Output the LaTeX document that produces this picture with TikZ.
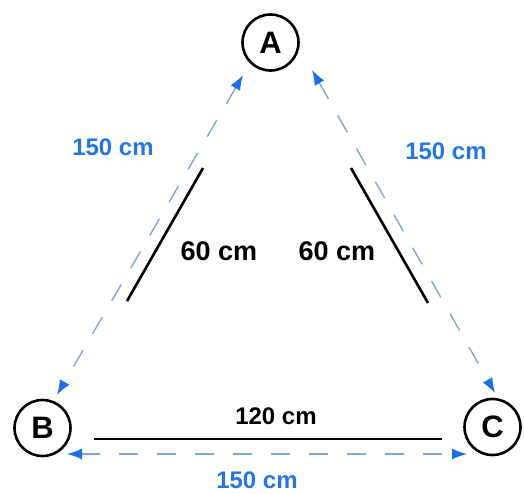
\documentclass[tikz,border=0pt]{standalone}
\usepackage{fontspec}
\setmainfont{Liberation Sans}
\usetikzlibrary{arrows.meta,calc}
\definecolor{tipblue}{RGB}{30,110,228}
\definecolor{dashblue}{RGB}{128,166,212}
\definecolor{lblblue}{RGB}{38,118,226}
\tikzset{
  pt/.style={circle,draw=black,line width=2.6pt,minimum size=56pt,inner sep=0pt,
    font=\fontsize{31}{31}\selectfont\bfseries},
  dim/.style={dashblue,line width=1.4pt,dash pattern=on 19pt off 19pt,
    {Latex[length=15pt,width=11pt,color=tipblue]}-{Latex[length=15pt,width=11pt,color=tipblue]}},
  seg/.style={black,line width=2.6pt},
  bluelbl/.style={text=lblblue,font=\fontsize{24}{24}\selectfont\bfseries},
  blacklbl/.style={text=black,font=\fontsize{24}{24}\selectfont\bfseries},
  bigblacklbl/.style={text=black,font=\fontsize{27}{27}\selectfont\bfseries},
}
\begin{document}
\begin{tikzpicture}[x=1pt,y=-1pt]
\useasboundingbox (0,0) rectangle (524,493);
\node[pt] (A) at (270.5,42.5) {A};
\node[pt] (B) at (42.5,428) {B};
\node[pt] (C) at (492.5,427) {C};
% dimension connectors
\draw[dim] ($(A)+(-27.5,32.5)$) -- ($(B)+(14.5,-33)$);
\draw[dim] ($(A)+(41.5,27.5)$) -- ($(C)+(2.5,-34)$);
\draw[dim] ($(B)+(24.5,26)$) -- ($(C)+(-25.5,27)$);
% solid segments
\draw[seg] (203,168) -- (127,301);
\draw[seg] (351,168) -- (428,303);
\draw[seg] (94,439) -- (442,439);
% labels
\node[bluelbl] (lab) at (113,147) {150 cm};
\node[bluelbl] (lac) at (446,151) {150 cm};
\node[bluelbl] (lbc) at (257,480) {150 cm};
\node[bigblacklbl] (l60a) at (219,251) {60 cm};
\node[bigblacklbl] (l60b) at (337,251) {60 cm};
\node[blacklbl] (l120) at (276,416) {120 cm};
\end{tikzpicture}
\end{document}
